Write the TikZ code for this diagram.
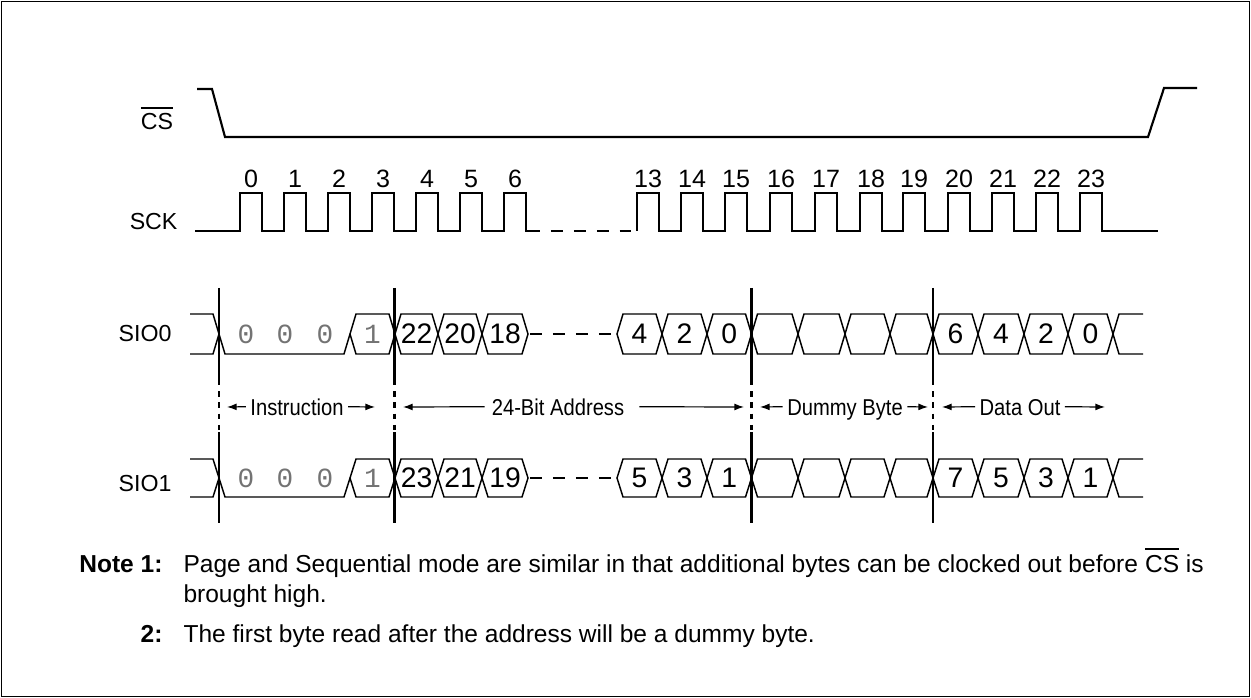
\documentclass[tikz,border=0pt]{standalone}
\usepackage{fontspec}
\setmainfont{Liberation Sans}
\newfontfamily\monof{Liberation Mono}
\newfontfamily\narrowf[FakeStretch=0.88]{Liberation Sans}
\usetikzlibrary{arrows.meta}

\newcommand{\ovl}[1]{\leavevmode\vbox{\hrule height 0.7pt\kern 1.7pt\hbox{#1}}}

\tikzset{
  sig/.style={line width=0.8pt, line join=miter},
  databox/.style={line width=0.55pt},
  valtxt/.style={font=\fontsize{10.6}{12}\selectfont, inner sep=0pt},
  graytxt/.style={font=\monof\fontsize{10.4}{12}\selectfont, text=black!55, inner sep=0pt},
  clktxt/.style={font=\fontsize{9.4}{11}\selectfont, inner sep=0pt, anchor=base},
  lbl/.style={font=\fontsize{8.7}{10}\selectfont, inner sep=0pt},
  phase/.style={font=\narrowf\fontsize{8.6}{10}\selectfont, inner sep=1.5pt, text height=6.2pt, text depth=0pt, anchor=base},
  arr/.style={line width=0.45pt, -{Latex[length=3.6pt,width=2.6pt]}},
  vsolid/.style={line width=0.8pt},
  vdash/.style={line width=0.8pt, dash pattern=on 2pt off 2.2pt},
  hdash/.style={line width=0.8pt, dash pattern=on 4.4pt off 4.2pt},
  note/.style={font=\fontsize{9.2}{11}\selectfont, inner sep=0pt, anchor=base west},
  notenum/.style={font=\bfseries\fontsize{9.2}{11}\selectfont, inner sep=0pt, anchor=base east},
}

% [style]{name}{x1}{x2}{ytop}{ybot}{text}
\newcommand{\hexb}[7][valtxt]{%
  \draw[databox] (#3,{(#5+#6)/2}) -- ({#3+6},#5) -- ({#4-6},#5) -- (#4,{(#5+#6)/2}) -- ({#4-6},#6) -- ({#3+6},#6) -- cycle;
  \node[#1] (#2) at ({(#3+#4)/2},{(#5+#6)/2}) {#7};
}

\begin{document}
\begin{tikzpicture}[x=0.375pt,y=-0.375pt]
\useasboundingbox (0,0) rectangle (1251,698);
\draw[line width=0.5pt] (1.5,1.5) rectangle (1249.5,696.5);

% ---- signal names
\node[lbl, anchor=base] (cslbl) at (157,130) {\ovl{CS}};
\node[lbl, anchor=base east] (scklbl) at (178,230) {SCK};
\node[lbl, anchor=base east] (sio0lbl) at (172,342) {SIO0};
\node[lbl, anchor=base east] (sio1lbl) at (172,491.5) {SIO1};

% ---- CS
\draw[sig] (197,89) -- (212,89) -- (225,137) -- (1148,137) -- (1164,88) -- (1197,88);

% ---- SCK
\draw[sig] (195,231) foreach \r in {240,284,328,372,416,460,504} { -- (\r,231) -- (\r,193) -- ({\r+22},193) -- ({\r+22},231) } -- (528,231);
\draw[hdash] (528,231) -- (637,231);
\draw[sig] (637,231) foreach \r in {637,681,725,770,815,860,903,948,992,1036,1080} { -- (\r,231) -- (\r,193) -- ({\r+22},193) -- ({\r+22},231) } -- (1158,231);
\foreach \r/\n in {240/0,284/1,328/2,372/3,416/4,460/5,504/6,637/13,681/14,725/15,770/16,815/17,860/18,903/19,948/20,992/21,1036/22,1080/23}
  \node[clktxt] (clk\n) at ({\r+11},188) {\n};

% ---- data rows
\foreach \yt/\yb/\row in {314/354/0, 459/497/1} {
  \pgfmathsetmacro{\ym}{(\yt+\yb)/2}
  \draw[databox] (190,\yt) -- (213,\yt) -- (219,\ym) -- (213,\yb) -- (190,\yb);
  \draw[databox] (219,\ym) -- (225,\yb) -- (344,\yb) -- (350,\ym);
  \node[graytxt] (z\row a) at (246,\ym) {0};
  \node[graytxt] (z\row b) at (285,\ym) {0};
  \node[graytxt] (z\row c) at (325,\ym) {0};
  \hexb[graytxt]{one\row}{350}{395}{\yt}{\yb}{1}
  \draw[hdash] (530,\ym) -- (617,\ym);
  \hexb{dm\row a}{751.5}{798}{\yt}{\yb}{}
  \hexb{dm\row b}{798}{845}{\yt}{\yb}{}
  \hexb{dm\row c}{845}{890}{\yt}{\yb}{}
  \hexb{dm\row d}{890}{933}{\yt}{\yb}{}
  \draw[databox] (1143,\yt) -- (1119,\yt) -- (1113,\ym) -- (1119,\yb) -- (1143,\yb);
}
% SIO0 values
\hexb{a22}{395}{438}{314}{354}{22}
\hexb{a20}{438}{482}{314}{354}{20}
\hexb{a18}{482}{528}{314}{354}{18}
\hexb{a4}{617}{662}{314}{354}{4}
\hexb{a2}{662}{707}{314}{354}{2}
\hexb{a0}{707}{751.5}{314}{354}{0}
\hexb{d6}{933}{978}{314}{354}{6}
\hexb{d4}{978}{1024}{314}{354}{4}
\hexb{d2}{1024}{1068}{314}{354}{2}
\hexb{d0}{1068}{1113}{314}{354}{0}
% SIO1 values
\hexb{b23}{395}{438}{459}{497}{23}
\hexb{b21}{438}{482}{459}{497}{21}
\hexb{b19}{482}{528}{459}{497}{19}
\hexb{b5}{617}{662}{459}{497}{5}
\hexb{b3}{662}{707}{459}{497}{3}
\hexb{b1}{707}{751.5}{459}{497}{1}
\hexb{e7}{933}{978}{459}{497}{7}
\hexb{e5}{978}{1024}{459}{497}{5}
\hexb{e3}{1024}{1068}{459}{497}{3}
\hexb{e1}{1068}{1113}{459}{497}{1}

% ---- phase boundaries
\foreach \x in {219,394.5,751.5,933} {
  \draw[vsolid] (\x,288) -- (\x,380);
  \draw[vdash] (\x,380) -- (\x,432);
  \draw[vsolid] (\x,432) -- (\x,523);
}

% ---- phase labels
\node[phase] (instr) at (297,415) {Instruction};
\coordinate (instrL) at (227,407); \coordinate (instrR) at (375,407);
\draw[arr] (instr.west) -- (instrL);
\draw[arr] (instr.east) -- (instrR);
\node[phase] (addr) at (558,415) {24-Bit Address};
\coordinate (addrL) at (403,407); \coordinate (addrR) at (744,407);
\draw[arr] ([xshift=-1pt]addr.west) -- (addrL);
\draw[arr] ([xshift=4pt]addr.east) -- (addrR);
\node[phase] (dummy) at (845,415) {Dummy Byte};
\coordinate (dummyL) at (760,407); \coordinate (dummyR) at (928,407);
\draw[arr] (dummy.west) -- (dummyL);
\draw[arr] (dummy.east) -- (dummyR);
\node[phase] (dout) at (1020,415) {Data Out};
\coordinate (doutL) at (942,407); \coordinate (doutR) at (1105,407);
\draw[arr] (dout.west) -- (doutL);
\draw[arr] (dout.east) -- (doutR);

% ---- notes
\node[notenum] (n1k) at (163,572) {Note 1:};
\node[note] (n1a) at (183,572) {Page and Sequential mode are similar in that additional bytes can be clocked out before \ovl{CS} is};
\node[note] (n1b) at (183,602) {brought high.};
\node[notenum] (n2k) at (163,642) {2:};
\node[note] (n2a) at (183,642) {The first byte read after the address will be a dummy byte.};
\end{tikzpicture}
\end{document}
